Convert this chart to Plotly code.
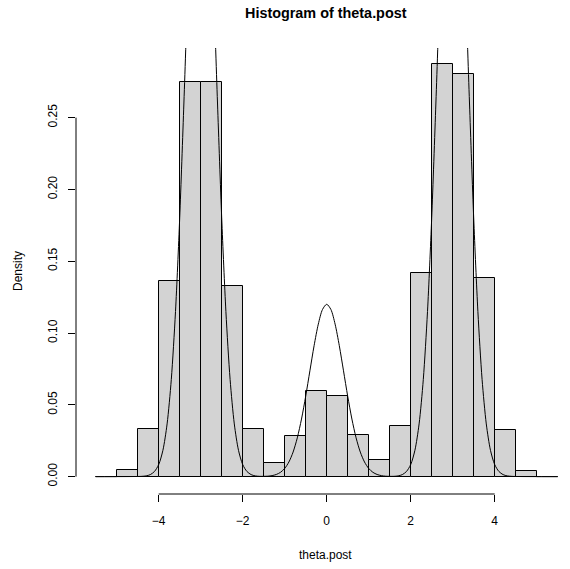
import plotly.graph_objects as go

# Histogram of theta.post (density scale), bins of width 0.5 from -5.5 to 5.5
bin_edges = [-5.5, -5.0, -4.5, -4.0, -3.5, -3.0, -2.5, -2.0, -1.5, -1.0, -0.5, 0.0,
             0.5, 1.0, 1.5, 2.0, 2.5, 3.0, 3.5, 4.0, 4.5, 5.0, 5.5]
bin_density = [0.0, 0.0044, 0.0334, 0.1360, 0.2750, 0.2750, 0.1328, 0.0332,
               0.0095, 0.0283, 0.0599, 0.0562, 0.0290, 0.0116, 0.0355, 0.1418,
               0.2872, 0.2806, 0.1380, 0.0327, 0.0042, 0.0]

# Overlaid density curve
curve_x = [-5.5,
           -4.5, -4.4, -4.3, -4.2, -4.1, -4.0, -3.9, -3.8, -3.7, -3.6,
           -3.5, -3.4, -3.3, -3.2, -3.1, -3.0, -2.9, -2.8, -2.7, -2.6,
           -2.5, -2.4, -2.3, -2.2, -2.1, -2.0, -1.9, -1.8, -1.7, -1.6,
           -1.5, -1.4, -1.3, -1.2, -1.1, -1.0, -0.9, -0.8, -0.7, -0.6,
           -0.5, -0.4, -0.3, -0.2, -0.1, 0.0, 0.1, 0.2, 0.3, 0.4,
           0.5, 0.6, 0.7, 0.8, 0.9, 1.0, 1.1, 1.2, 1.3, 1.4,
           1.5, 1.6, 1.7, 1.8, 1.9, 2.0, 2.1, 2.2, 2.3, 2.4,
           2.5, 2.6, 2.7, 2.8, 2.9, 3.0, 3.1, 3.2, 3.3, 3.4,
           3.5, 3.6, 3.7, 3.8, 3.9, 4.0, 4.1, 4.2, 4.3, 4.4,
           4.5, 5.5]
curve_y = [0.0,
           0.0001, 0.0002, 0.0005, 0.0014, 0.0036, 0.0084, 0.0183, 0.0367, 0.0677, 0.1150,
           0.1802, 0.2602, 0.3463, 0.4247, 0.4800, 0.5000, 0.4800, 0.4247, 0.3463, 0.2602,
           0.1802, 0.1150, 0.0677, 0.0367, 0.0183, 0.0084, 0.0036, 0.0014, 0.0005, 0.0002,
           0.0002, 0.0003, 0.0007, 0.0015, 0.0030, 0.0057, 0.0102, 0.0171, 0.0270, 0.0401,
           0.0560, 0.0737, 0.0912, 0.1062, 0.1164, 0.1200, 0.1164, 0.1062, 0.0912, 0.0737,
           0.0560, 0.0401, 0.0270, 0.0171, 0.0102, 0.0057, 0.0030, 0.0015, 0.0007, 0.0003,
           0.0002, 0.0002, 0.0005, 0.0014, 0.0036, 0.0084, 0.0183, 0.0367, 0.0677, 0.1150,
           0.1802, 0.2602, 0.3463, 0.4247, 0.4800, 0.5000, 0.4800, 0.4247, 0.3463, 0.2602,
           0.1802, 0.1150, 0.0677, 0.0367, 0.0183, 0.0084, 0.0036, 0.0014, 0.0005, 0.0002,
           0.0001, 0.0]

x_ticks = [-4, -2, 0, 2, 4]
y_ticks = [0.00, 0.05, 0.10, 0.15, 0.20, 0.25]

centers = [(a + b) / 2 for a, b in zip(bin_edges[:-1], bin_edges[1:])]
widths = [b - a for a, b in zip(bin_edges[:-1], bin_edges[1:])]

fig = go.Figure()
fig.add_trace(go.Bar(
    x=centers, y=bin_density, width=widths,
    marker=dict(color="#d3d3d3", line=dict(color="#000000", width=1)),
    hoverinfo="skip",
))
# empty bins are drawn as flat outlines on the baseline
for a, b, d in zip(bin_edges[:-1], bin_edges[1:], bin_density):
    if d == 0:
        fig.add_trace(go.Scatter(x=[a, b], y=[d, d], mode="lines",
                                 line=dict(color="#555555", width=1), hoverinfo="skip"))
fig.add_trace(go.Scatter(
    x=curve_x, y=curve_y, mode="lines",
    line=dict(color="#000000", width=1, shape="spline", smoothing=0.8),
    hoverinfo="skip",
))

font = "Liberation Sans, Arial, Helvetica, sans-serif"
fig.update_layout(
    width=570, height=569,
    margin=dict(l=76, r=0, t=48, b=75),
    paper_bgcolor="white", plot_bgcolor="white",
    showlegend=False, bargap=0,
    font=dict(family=font, size=12, color="#000000"),
    xaxis=dict(range=[-5.969, 5.793], showgrid=False, zeroline=False, showline=False,
               tickvals=x_ticks, ticktext=[str(v).replace("-", "\u2212") for v in x_ticks],
               ticks="outside", ticklen=7, tickwidth=1, tickcolor="#000000",
               ticklabelstandoff=9),
    yaxis=dict(range=[-0.0121, 0.2985], showgrid=False, zeroline=False, showline=False,
               tickvals=y_ticks, ticktext=[f"{v:.2f}" for v in y_ticks],
               ticks="outside", ticklen=7, tickwidth=1, tickcolor="#000000",
               tickangle=-90, ticklabelstandoff=6),
    shapes=[
        dict(type="line", xref="x", yref="paper", x0=min(x_ticks), x1=max(x_ticks),
             y0=0, y1=0, line=dict(color="#000000", width=1)),
        dict(type="line", xref="paper", yref="y", x0=0, x1=0,
             y0=min(y_ticks), y1=max(y_ticks), line=dict(color="#000000", width=1)),
    ],
    annotations=[
        dict(text="<b>Histogram of theta.post</b>", xref="paper", yref="paper",
             x=0.506, y=1.0785, xanchor="center", yanchor="middle", showarrow=False,
             font=dict(size=14.4)),
        dict(text="theta.post", xref="paper", yref="paper", x=0.506, y=-0.1368,
             xanchor="center", yanchor="middle", showarrow=False, font=dict(size=12)),
        dict(text="Density", xref="paper", yref="paper", x=-0.1174, y=0.5,
             xanchor="center", yanchor="middle", textangle=-90, showarrow=False,
             font=dict(size=12)),
    ],
)
fig.write_html("out.html")
